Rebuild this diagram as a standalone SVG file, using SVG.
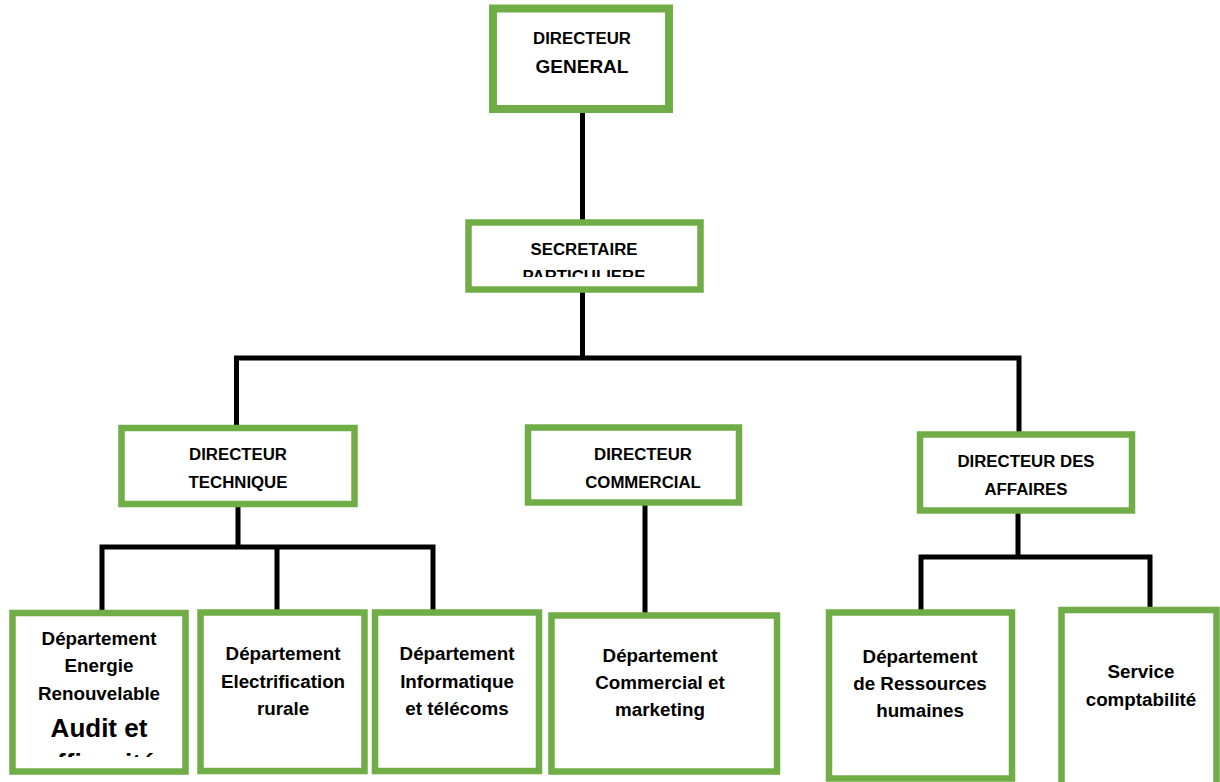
<svg xmlns="http://www.w3.org/2000/svg" width="1220" height="782" viewBox="0 0 1220 782">
<style>
.box{fill:#fff;stroke:#70AD47;stroke-width:6.5}
.t{font-family:"Liberation Sans",Arial,sans-serif;font-weight:bold;fill:#000;text-anchor:middle}
.h{font-size:16.8px}
.b{font-size:18.8px}
.c{fill:none;stroke:#000;stroke-width:5}
</style>
<defs>
<clipPath id="clipSec"><rect x="468" y="222" width="233" height="55"/></clipPath>
<clipPath id="clipER"><rect x="12" y="613" width="173" height="144"/></clipPath>
</defs>
<rect width="1220" height="782" fill="#fff"/>
<g id="connectors">
<path class="c" d="M582.5,112 V222"/>
<path class="c" d="M582.5,292 V358"/>
<path class="c" d="M236.5,428 V358 H1019 V434"/>
<path class="c" d="M238,505 V547"/>
<path class="c" d="M102,612 V547 H433 V612 M277,547 V612"/>
<path class="c" d="M645,505 V615"/>
<path class="c" d="M1018,513 V557"/>
<path class="c" d="M921,612 V557 H1150 V610"/>
</g>
<g id="directeur-general">
<rect class="box" x="493" y="8.5" width="176" height="100.5" style="stroke-width:8"/>
<text class="t h" x="582" y="43.5">DIRECTEUR</text>
<text class="t" x="582" y="72.5" style="font-size:19px">GENERAL</text>
</g>
<g id="secretaire">
<rect class="box" x="468.5" y="222.5" width="232" height="67"/>
<g clip-path="url(#clipSec)">
<text class="t h" x="584" y="255">SECRETAIRE</text>
<text class="t h" x="584" y="282">PARTICULIERE</text>
</g>
</g>
<g id="directeur-technique">
<rect class="box" x="121.5" y="428" width="233" height="76"/>
<text class="t h" x="238" y="460">DIRECTEUR</text>
<text class="t h" x="238" y="488">TECHNIQUE</text>
</g>
<g id="directeur-commercial">
<rect class="box" x="528" y="427.5" width="211" height="75"/>
<text class="t h" x="643" y="460">DIRECTEUR</text>
<text class="t h" x="643" y="488">COMMERCIAL</text>
</g>
<g id="directeur-affaires">
<rect class="box" x="920" y="434.5" width="212" height="76"/>
<text class="t h" x="1026" y="467">DIRECTEUR DES</text>
<text class="t h" x="1026" y="495">AFFAIRES</text>
</g>
<g id="dept-energie">
<rect class="box" x="12.5" y="613" width="173" height="158.5"/>
<g clip-path="url(#clipER)">
<text class="t b" x="99" y="645">Département</text>
<text class="t b" x="99" y="672">Energie</text>
<text class="t b" x="99" y="700">Renouvelable</text>
<text class="t" x="99" y="737" style="font-size:26px">Audit et</text>
<text class="t" x="99" y="772" style="font-size:26px">efficacité</text>
</g>
</g>
<g id="dept-electrification">
<rect class="box" x="200.5" y="612.5" width="164" height="158.5"/>
<text class="t b" x="283" y="660">Département</text>
<text class="t b" x="283" y="688">Electrification</text>
<text class="t b" x="283" y="715">rurale</text>
</g>
<g id="dept-informatique">
<rect class="box" x="375" y="612.5" width="164" height="158.5"/>
<text class="t b" x="457" y="660">Département</text>
<text class="t b" x="457" y="688">Informatique</text>
<text class="t b" x="457" y="715">et télécoms</text>
</g>
<g id="dept-commercial">
<rect class="box" x="551.5" y="615.5" width="225.5" height="156"/>
<text class="t b" x="660" y="662">Département</text>
<text class="t b" x="660" y="689">Commercial et</text>
<text class="t b" x="660" y="716">marketing</text>
</g>
<g id="dept-rh">
<rect class="box" x="829" y="612.5" width="183" height="166"/>
<text class="t b" x="920" y="663">Département</text>
<text class="t b" x="920" y="690">de Ressources</text>
<text class="t b" x="920" y="717">humaines</text>
</g>
<g id="service-comptabilite">
<rect class="box" x="1061.5" y="610" width="155" height="185"/>
<text class="t b" x="1141" y="678">Service</text>
<text class="t b" x="1141" y="706">comptabilité</text>
</g>
</svg>
